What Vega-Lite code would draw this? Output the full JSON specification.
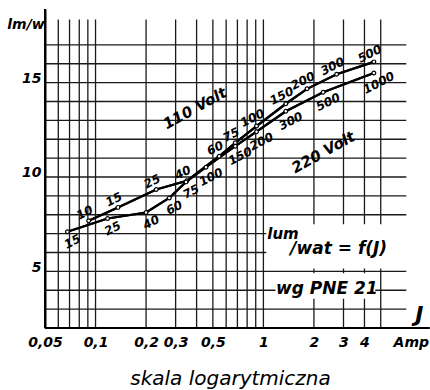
{
  "$schema": "https://vega.github.io/schema/vega-lite/v6.json",
  "width": 370,
  "height": 319,
  "autosize": {"type": "none"},
  "padding": {"left": 45, "top": 9, "right": 15, "bottom": 62},
  "background": "white",
  "config": {
    "view": {"stroke": null},
    "axis": {"grid": false, "ticks": false, "domain": false},
    "text": {"font": "DejaVu Sans", "fontStyle": "italic", "fontWeight": "bold", "color": "black"}
  },
  "datasets": {
    "hgrid": [{"y": 3}, {"y": 4}, {"y": 5}, {"y": 6}, {"y": 7}, {"y": 8}, {"y": 9}, {"y": 10}, {"y": 11}, {"y": 12}, {"y": 13}, {"y": 14}, {"y": 15}, {"y": 16}, {"y": 17}],
    "vgrid": [{"x": 0.06}, {"x": 0.07}, {"x": 0.08}, {"x": 0.09}, {"x": 0.1}, {"x": 0.2}, {"x": 0.3}, {"x": 0.4}, {"x": 0.5}, {"x": 0.6}, {"x": 0.7}, {"x": 0.8}, {"x": 0.9}, {"x": 1}, {"x": 2}, {"x": 3}, {"x": 4}, {"x": 5}],
    "boxes": [{"x": 1.04, "x2": 7.2, "y": 5.15, "y2": 7.5}, {"x": 1.18, "x2": 4.64, "y": 3.55, "y2": 4.9}],
    "curves": [
      {"s": "110", "w": 10, "x": 0.091, "y": 7.68},
      {"s": "110", "w": 15, "x": 0.136, "y": 8.39},
      {"s": "110", "w": 25, "x": 0.23, "y": 9.34},
      {"s": "110", "w": 40, "x": 0.35, "y": 9.8},
      {"s": "110", "w": 60, "x": 0.545, "y": 11.1},
      {"s": "110", "w": 75, "x": 0.68, "y": 11.81},
      {"s": "110", "w": 100, "x": 0.91, "y": 12.7},
      {"s": "110", "w": 150, "x": 1.36, "y": 13.88},
      {"s": "110", "w": 200, "x": 1.82, "y": 14.67},
      {"s": "110", "w": 300, "x": 2.73, "y": 15.44},
      {"s": "110", "w": 500, "x": 4.55, "y": 16.1},
      {"s": "220", "w": 15, "x": 0.068, "y": 7.1},
      {"s": "220", "w": 25, "x": 0.118, "y": 7.8},
      {"s": "220", "w": 40, "x": 0.2, "y": 8.12},
      {"s": "220", "w": 60, "x": 0.275, "y": 8.89},
      {"s": "220", "w": 75, "x": 0.346, "y": 9.74},
      {"s": "220", "w": 100, "x": 0.455, "y": 10.52},
      {"s": "220", "w": 150, "x": 0.68, "y": 11.63},
      {"s": "220", "w": 200, "x": 0.91, "y": 12.4},
      {"s": "220", "w": 300, "x": 1.36, "y": 13.48},
      {"s": "220", "w": 500, "x": 2.27, "y": 14.49},
      {"s": "220", "w": 1000, "x": 4.55, "y": 15.51}
    ]
  },
  "layer": [
    {
      "data": {"name": "curves"},
      "mark": {"type": "line", "color": "black", "strokeWidth": 2.2, "strokeCap": "round"},
      "encoding": {
        "x": {"field": "x", "type": "quantitative", "scale": {"type": "log", "domain": [0.05, 8], "nice": false},
          "axis": {"values": [0.05, 0.1, 0.2, 0.3, 0.5, 1, 2, 3, 4, 7.55],
            "labelExpr": "datum.value > 6 ? 'Amp' : replace(toString(datum.value), '.', ',')",
            "domain": false, "ticks": false, "grid": false, "labelPadding": 7, "labelFontSize": 14,
            "labelFont": "DejaVu Sans", "labelFontStyle": "italic", "labelFontWeight": "bold", "labelColor": "black",
            "labelOverlap": false, "labelFlush": false, "labelBound": false,
            "title": "skala logarytmiczna", "titleFontSize": 20, "titleFont": "DejaVu Sans", "titleFontStyle": "italic",
            "titleFontWeight": "normal", "titlePadding": 19, "titleColor": "black"}},
        "y": {"field": "y", "type": "quantitative", "scale": {"domain": [2, 18.9], "nice": false, "zero": false},
          "axis": {"values": [5, 10, 15], "domain": true, "domainColor": "black", "domainWidth": 2, "ticks": false, "grid": false,
            "labelPadding": 4, "labelFontSize": 14, "labelFont": "DejaVu Sans", "labelFontStyle": "italic", "labelFontWeight": "bold",
            "labelColor": "black", "labelBaseline": "alphabetic", "title": null}},
        "detail": {"field": "s", "type": "nominal"}
      }
    },
    {
      "data": {"name": "vgrid"},
      "mark": {"type": "rule", "color": "#1a1a1a", "strokeWidth": 1.3},
      "encoding": {
        "x": {"field": "x", "type": "quantitative"},
        "y": {"datum": 2, "type": "quantitative"},
        "y2": {"datum": 18.35}
      }
    },
    {
      "data": {"name": "hgrid"},
      "mark": {"type": "rule", "color": "#1a1a1a", "strokeWidth": 1.3},
      "encoding": {
        "x": {"datum": 0.05, "type": "quantitative"},
        "x2": {"datum": 7.1},
        "y": {"field": "y", "type": "quantitative"}
      }
    },
    {
      "data": {"name": "boxes"},
      "mark": {"type": "rect", "color": "white"},
      "encoding": {
        "x": {"field": "x", "type": "quantitative"},
        "x2": {"field": "x2"},
        "y": {"field": "y", "type": "quantitative"},
        "y2": {"field": "y2"}
      }
    },
    {
      "data": {"values": [{}]},
      "mark": {"type": "rule", "color": "black", "strokeWidth": 2},
      "encoding": {
        "x": {"datum": 0.05, "type": "quantitative"},
        "x2": {"datum": 9.8},
        "y": {"datum": 2, "type": "quantitative"}
      }
    },
    {
      "data": {"values": [{}]},
      "mark": {"type": "rule", "color": "black", "strokeWidth": 2},
      "encoding": {
        "x": {"datum": 0.05, "type": "quantitative"},
        "y": {"datum": 2, "type": "quantitative"},
        "y2": {"datum": 18.9}
      }
    },
    {
      "data": {"name": "curves"},
      "mark": {"type": "line", "color": "black", "strokeWidth": 2.2, "strokeCap": "round"},
      "encoding": {
        "x": {"field": "x", "type": "quantitative"},
        "y": {"field": "y", "type": "quantitative"},
        "detail": {"field": "s", "type": "nominal"}
      }
    },
    {
      "data": {"name": "curves"},
      "mark": {"type": "point", "shape": "circle", "filled": true, "fill": "white", "stroke": "black", "strokeWidth": 1.2, "size": 14, "opacity": 1},
      "encoding": {
        "x": {"field": "x", "type": "quantitative"},
        "y": {"field": "y", "type": "quantitative"}
      }
    },
    {
      "data": {"name": "curves"},
      "transform": [{"filter": "datum.s == '110'"}],
      "mark": {"type": "text", "angle": -27, "dy": -9, "fontSize": 12},
      "encoding": {
        "x": {"field": "x", "type": "quantitative"},
        "y": {"field": "y", "type": "quantitative"},
        "text": {"field": "w", "type": "nominal"}
      }
    },
    {
      "data": {"name": "curves"},
      "transform": [{"filter": "datum.s == '220'"}],
      "mark": {"type": "text", "angle": -27, "dy": 11, "fontSize": 12},
      "encoding": {
        "x": {"field": "x", "type": "quantitative"},
        "y": {"field": "y", "type": "quantitative"},
        "text": {"field": "w", "type": "nominal"}
      }
    },
    {
      "data": {"values": [{"x": 0.39, "y": 13.64, "t": "110 Volt"}, {"x": 2.27, "y": 11.31, "t": "220 Volt"}]},
      "mark": {"type": "text", "angle": -29, "fontSize": 15},
      "encoding": {
        "x": {"field": "x", "type": "quantitative"},
        "y": {"field": "y", "type": "quantitative"},
        "text": {"field": "t", "type": "nominal"}
      }
    },
    {
      "data": {"values": [{"x": 1.055, "y": 6.97, "t": "lum"}]},
      "mark": {"type": "text", "align": "left", "fontSize": 15},
      "encoding": {
        "x": {"field": "x", "type": "quantitative"},
        "y": {"field": "y", "type": "quantitative"},
        "text": {"field": "t", "type": "nominal"}
      }
    },
    {
      "data": {"values": [{"x": 1.446, "y": 6.18, "t": "/wat = f(J)"}, {"x": 1.19, "y": 4.06, "t": "wg PNE 21"}]},
      "mark": {"type": "text", "align": "left", "fontSize": 17},
      "encoding": {
        "x": {"field": "x", "type": "quantitative"},
        "y": {"field": "y", "type": "quantitative"},
        "text": {"field": "t", "type": "nominal"}
      }
    },
    {
      "data": {"values": [{"x": 8.5, "y": 2.69, "t": "J"}]},
      "mark": {"type": "text", "fontSize": 22},
      "encoding": {
        "x": {"field": "x", "type": "quantitative"},
        "y": {"field": "y", "type": "quantitative"},
        "text": {"field": "t", "type": "nominal"}
      }
    },
    {
      "data": {"values": [{"x": 0.05, "y": 18.03, "t": "lm/w"}]},
      "mark": {"type": "text", "fontSize": 14, "dx": -19},
      "encoding": {
        "x": {"field": "x", "type": "quantitative"},
        "y": {"field": "y", "type": "quantitative"},
        "text": {"field": "t", "type": "nominal"}
      }
    }
  ]
}
